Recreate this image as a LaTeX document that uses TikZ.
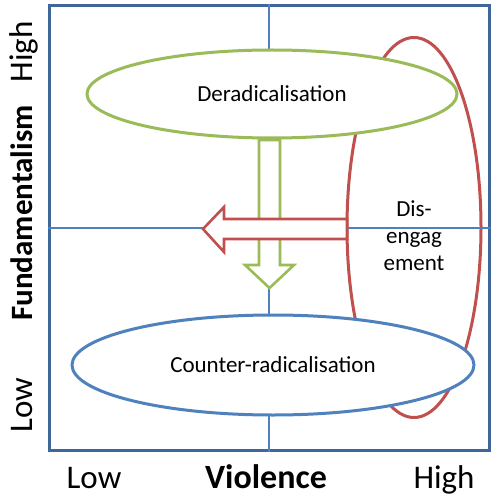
\documentclass[tikz,border=0pt]{standalone}
\usepackage{fontspec}
\setmainfont{Carlito}
\usetikzlibrary{shapes.geometric}
\definecolor{framec}{HTML}{3F679A}
\definecolor{axisc}{HTML}{4F81BD}
\definecolor{greenc}{HTML}{9BBB59}
\definecolor{redc}{HTML}{C0504D}
\definecolor{bluec}{HTML}{4F81BD}
\tikzset{
  axislabel/.style={font=\fontsize{33}{38}\selectfont, anchor=base, inner sep=0pt},
  axistitle/.style={axislabel, font=\fontsize{34}{38}\selectfont\bfseries},
  oval/.style={ellipse, line width=3pt, inner sep=0pt, font=\fontsize{23}{27}\selectfont},
  blockarrow/.style={line width=2.6pt, fill=white, line join=miter},
  crossline/.style={axisc, line width=1.3pt}
}
\begin{document}
\begin{tikzpicture}[x=1pt, y=-1pt]
\useasboundingbox[fill=white] (0,0) rectangle (497,497);
% frame
\node[draw=framec, line width=3pt, minimum width=440pt, minimum height=444pt, inner sep=0pt] (frame) at (269,228) {};
% disengagement (unfilled)
\node[oval, draw=redc, minimum width=134pt, minimum height=380pt] (dis) at (414,227.5) {};
\node[font=\fontsize{23}{27}\selectfont, align=center, inner sep=0pt] (distext) at (414,236) {Dis-\\engag\\ement};
% crosshair
\draw[crossline] (frame.north) -- (frame.south);
\draw[crossline] (frame.west) -- (frame.east);
% green arrow (down)
\draw[blockarrow, draw=greenc] (259,140) -- (259,265) -- (245,265) -- (269.5,288) -- (294,265) -- (280,265) -- (280,140) -- cycle;
% red arrow (left)
\draw[blockarrow, draw=redc] (347,219) -- (224,219) -- (224,207) -- (203,229) -- (224,252) -- (224,239) -- (347,239) -- cycle;
% deradicalisation
\node[oval, draw=greenc, fill=white, minimum width=370pt, minimum height=88pt] (derad) at (272,94) {Deradicalisation};
% counter-radicalisation
\node[oval, draw=bluec, fill=white, minimum width=402pt, minimum height=100pt] (counter) at (273,365) {Counter-radicalisation};
% axis labels
\node[axislabel] (xlow) at (94,488) {Low};
\node[axistitle] (xtitle) at (266,488) {Violence};
\node[axislabel] (xhigh) at (444,488) {High};
\node[axislabel, rotate=90] (yhigh) at (32,52) {High};
\node[axistitle, rotate=90, font=\fontsize{31}{38}\selectfont\bfseries] (ytitle) at (32,213) {Fundamentalism};
\node[axislabel, rotate=90] (ylow) at (32,405) {Low};
\end{tikzpicture}
\end{document}
